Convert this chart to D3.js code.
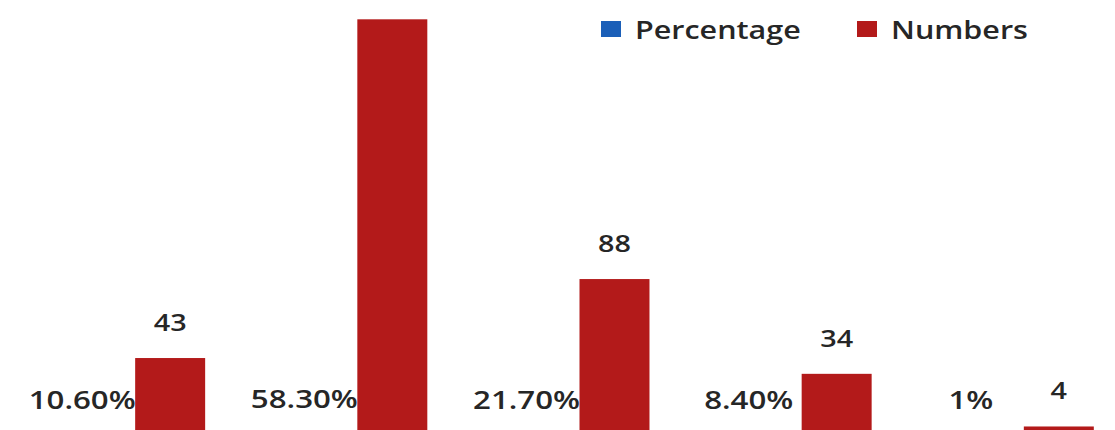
<!DOCTYPE html>
<html>
<head>
<meta charset="utf-8">
<script src="https://cdn.jsdelivr.net/npm/d3@7"></script>
<style>
  html, body { margin: 0; padding: 0; background: #ffffff; }
  svg { display: block; }
  text { font-family: "Open Sans", "Noto Sans", sans-serif; fill: #262626; }
</style>
</head>
<body>
<svg id="chart" width="1115" height="430"></svg>
<script>
// ---- data ----
const categories = ["Group 1", "Group 2", "Group 3", "Group 4", "Group 5"];
const series = ["Percentage", "Numbers"];
const percentageValues = [0.106, 0.583, 0.217, 0.084, 0.01];
const percentageLabels = ["10.60%", "58.30%", "21.70%", "8.40%", "1%"];
const numberValues = [43, 236, 88, 34, 4];
const numberLabels = ["43", "236", "88", "34", "4"];
const seriesColors = ["#1b5fb8", "#b31a1a"];

// ---- layout ----
const svg = d3.select("#chart");
const stretch = 1.25; // horizontally stretched text in the reference

const x0 = d3.scaleBand().domain(categories).range([0, 1141])
  .paddingInner(0.289).paddingOuter(0.2124);
const x1 = d3.scaleBand().domain(series).range([0, x0.bandwidth()])
  .paddingInner(0.2045);
const y = d3.scaleLinear().domain([0, 247]).range([433.5, 0]);
const color = d3.scaleOrdinal().domain(series).range(seriesColors);

const rows = categories.map((c, i) => ({
  cat: c,
  vals: [
    { key: "Percentage", value: percentageValues[i], label: percentageLabels[i] },
    { key: "Numbers", value: numberValues[i], label: numberLabels[i] }
  ]
}));

const groups = svg.append("g").selectAll("g").data(rows).join("g")
  .attr("transform", d => `translate(${x0(d.cat)},0)`);

groups.selectAll("rect").data(d => d.vals).join("rect")
  .attr("x", d => x1(d.key))
  .attr("width", x1.bandwidth())
  .attr("y", d => y(d.value))
  .attr("height", d => y(0) - y(d.value))
  .attr("fill", d => color(d.key));

const labelY = d => y(d.value) - (d.key === "Numbers" ? 27 : 24.5);

// labels that would sit above the visible frame (cropped in the reference) are not drawn
groups.selectAll("text").data(d => d.vals.filter(v => labelY(v) > 20)).join("text")
  .attr("text-anchor", "middle")
  .attr("font-size", d => d.key === "Numbers" ? 23 : 25)
  .attr("font-weight", 600)
  .attr("transform", d => {
    const cx = x1(d.key) + x1.bandwidth() / 2;
    return `translate(${cx},${labelY(d)}) scale(${stretch},1)`;
  })
  .text(d => d.label);

// ---- legend ----
const legendX = d3.scalePoint().domain(series).range([601, 857]);
const legend = svg.append("g").selectAll("g").data(series).join("g")
  .attr("transform", d => `translate(${legendX(d)},0)`);
legend.append("rect")
  .attr("x", 0).attr("y", 21).attr("width", 20).attr("height", 16)
  .attr("fill", d => color(d));
legend.append("text")
  .attr("font-size", 25)
  .attr("font-weight", 600)
  .attr("transform", "translate(34,39) scale(1.22,1)")
  .text(d => d);
</script>
</body>
</html>
